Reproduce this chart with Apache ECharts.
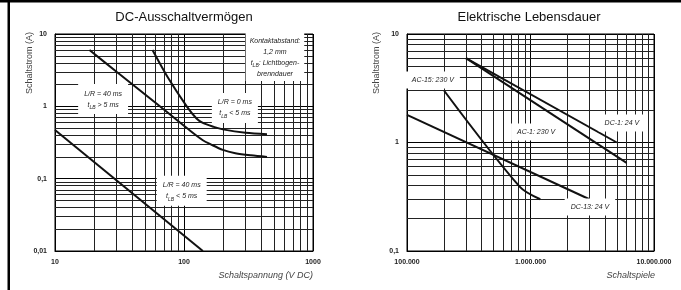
<!DOCTYPE html>
<html>
<head>
<meta charset="utf-8">
<script src="https://cdn.jsdelivr.net/npm/echarts@6/dist/echarts.min.js"></script>
<style>
  html, body { margin: 0; padding: 0; background: #fff; }
  #chart { width: 681px; height: 290px; }
</style>
</head>
<body>
<div id="chart"></div>
<script>
// DC-Ausschaltvermögen: [Schaltspannung (V DC), Schaltstrom (A)]
const dcLR40Long = [[18.5, 6], [30, 3], [65, 1], [110, 0.47], [140, 0.34], [160, 0.3], [200, 0.25], [250, 0.225], [330, 0.21], [440, 0.2]];
const dcLR0 = [[57, 6], [75, 2.5], [105, 1], [125, 0.68], [140, 0.59], [170, 0.52], [200, 0.48], [300, 0.43], [440, 0.41]];
const dcLR40Short = [[10, 0.47], [140, 0.01]];

// Elektrische Lebensdauer: [Schaltspiele, Schaltstrom (A)]
const lifeAC15 = [[200000, 3], [820000, 0.39], [1200000, 0.3]];
const lifeAC1 = [[300000, 6], [6000000, 0.65]];
const lifeDC1 = [[300000, 6], [5000000, 1]];
const lifeDC13 = [[100000, 1.8], [3000000, 0.3]];

// tick labels
const dcXTicks = [10, 100, 1000];
const dcXLabels = ["10", "100", "1000"];
const dcYTicks = [0.01, 0.1, 1, 10];
const dcYLabels = ["0,01", "0,1", "1", "10"];
const lifeXTicks = [100000, 1000000, 10000000];
const lifeXLabels = ["100.000", "1.000.000", "10.000.000"];
const lifeYTicks = [0.1, 1, 10];
const lifeYLabels = ["0,1", "1", "10"];

const FONT = "Liberation Sans";
const INK = "#111";

// minor grid lines 2..9 inside each decade
function minorLines(ticks) {
  const out = [];
  for (let i = 0; i < ticks.length - 1; i++) {
    for (let m = 2; m <= 9; m++) out.push(ticks[i] * m);
  }
  return out;
}

function tickFormatter(ticks, labels) {
  return (v) => {
    const i = ticks.findIndex((t) => Math.abs(Math.log10(t) - Math.log10(v)) < 1e-6);
    return i >= 0 ? labels[i] : "";
  };
}

function logAxis(gridIndex, ticks, labels, extra) {
  return Object.assign({
    type: "log",
    logBase: 10,
    gridIndex: gridIndex,
    min: ticks[0],
    max: ticks[ticks.length - 1],
    axisLine: { show: true, lineStyle: { color: "#000", width: 1 } },
    axisTick: { show: false },
    splitLine: { show: true, lineStyle: { color: "#000", width: 1 } },
    axisLabel: {
      fontSize: 7,
      fontWeight: "bold",
      fontFamily: FONT,
      color: "#222",
      margin: 8,
      showMinLabel: true,
      showMaxLabel: true,
      formatter: tickFormatter(ticks, labels),
    },
  }, extra || {});
}

function gridSeries(idx, xTicks, yTicks) {
  return {
    type: "line",
    xAxisIndex: idx,
    yAxisIndex: idx,
    data: [],
    z: 1,
    silent: true,
    markLine: {
      z: 1,
      silent: true,
      symbol: "none",
      animation: false,
      label: { show: false },
      emphasis: { disabled: true },
      lineStyle: { color: "#222", width: 1, type: "solid" },
      data: minorLines(xTicks).map((v) => ({ xAxis: v }))
        .concat(minorLines(yTicks).map((v) => ({ yAxis: v }))),
    },
  };
}

function curve(idx, data) {
  return {
    type: "line",
    xAxisIndex: idx,
    yAxisIndex: idx,
    data: data,
    showSymbol: false,
    smooth: 0.3,
    z: 6,
    silent: true,
    lineStyle: { color: INK, width: 2 },
  };
}

const richText = {
  a: { fontSize: 7, fontStyle: "italic", fontFamily: FONT, fill: "#222", lineHeight: 11 },
  s: { fontSize: 5, fontStyle: "italic", fontFamily: FONT, fill: "#222", lineHeight: 11, verticalAlign: "bottom" },
};

// annotation boxes, anchored in data units of each chart
const dcNotes = [
  { at: [507, 4.8], text: "{a|Kontaktabstand:}\n{a|1,2 mm}\n{a|t}{s|LB}{a|: Lichtbogen-}\n{a|brenndauer}", pad: [2, 4] },
  { at: [23.6, 1.26], text: "{a|L/R = 40 ms}\n{a|t}{s|LB}{a| > 5 ms}" },
  { at: [248, 0.95], text: "{a|L/R = 0 ms}\n{a|t}{s|LB}{a| < 5 ms}" },
  { at: [96, 0.068], text: "{a|L/R = 40 ms}\n{a|t}{s|LB}{a| < 5 ms}" },
];
const lifeNotes = [
  { at: [162000, 3.77], text: "{a|AC-15: 230 V}", pad: [3, 6] },
  { at: [1110000, 1.25], text: "{a|AC-1: 230 V}", pad: [3, 6] },
  { at: [5500000, 1.51], text: "{a|DC-1: 24 V}", pad: [3, 6] },
  { at: [3030000, 0.255], text: "{a|DC-13: 24 V}", pad: [3, 6] },
];

const chart = echarts.init(document.getElementById("chart"), null, { renderer: "canvas" });

chart.setOption({
  animation: false,
  backgroundColor: "#fff",
  title: [
    { text: "DC-Ausschaltvermögen", left: 179, top: 6, textAlign: "center",
      textStyle: { fontFamily: FONT, fontSize: 13, fontWeight: "normal", color: INK } },
    { text: "Elektrische Lebensdauer", left: 524, top: 6, textAlign: "center",
      textStyle: { fontFamily: FONT, fontSize: 13, fontWeight: "normal", color: INK } },
  ],
  grid: [
    { left: 55, top: 34, width: 258, height: 217, show: true, borderColor: "#000", borderWidth: 1 },
    { left: 407, top: 34, width: 247, height: 217, show: true, borderColor: "#000", borderWidth: 1 },
  ],
  xAxis: [
    logAxis(0, dcXTicks, dcXLabels, {}),
    logAxis(1, lifeXTicks, lifeXLabels, {}),
  ],
  yAxis: [
    logAxis(0, dcYTicks, dcYLabels, {}),
    logAxis(1, lifeYTicks, lifeYLabels, {}),
  ],
  series: [
    gridSeries(0, dcXTicks, dcYTicks),
    gridSeries(1, lifeXTicks, lifeYTicks),
    curve(0, dcLR40Long),
    curve(0, dcLR0),
    curve(0, dcLR40Short),
    curve(1, lifeAC15),
    curve(1, lifeAC1),
    curve(1, lifeDC1),
    curve(1, lifeDC13),
  ],
});

// place white annotation boxes through the chart's own scales
function noteGraphics(gridIndex, items) {
  return items.map((it) => {
    const p = chart.convertToPixel({ gridIndex: gridIndex }, it.at);
    return {
      type: "text",
      x: p[0],
      y: p[1],
      z: 50,
      silent: true,
      style: {
        text: it.text,
        rich: richText,
        align: "center",
        verticalAlign: "middle",
        backgroundColor: "#fff",
        padding: it.pad || [4, 6],
      },
    };
  });
}

chart.setOption({
  graphic: [
    { type: "rect", shape: { x: 0, y: 0, width: 681, height: 2.5 }, style: { fill: "#000" }, silent: true },
    { type: "rect", shape: { x: 7.5, y: 0, width: 2.5, height: 290 }, style: { fill: "#000" }, silent: true },
    { type: "text", x: 30, y: 63, rotation: Math.PI / 2, silent: true,
      style: { text: "Schaltstrom (A)", fontFamily: FONT, fontSize: 9, fill: "#444", align: "center", verticalAlign: "middle" } },
    { type: "text", x: 377, y: 63, rotation: Math.PI / 2, silent: true,
      style: { text: "Schaltstrom (A)", fontFamily: FONT, fontSize: 9, fill: "#444", align: "center", verticalAlign: "middle" } },
    { type: "text", x: 313, y: 275, silent: true,
      style: { text: "Schaltspannung (V DC)", fontFamily: FONT, fontSize: 9, fontStyle: "italic", fill: "#444", align: "right", verticalAlign: "middle" } },
    { type: "text", x: 655, y: 275, silent: true,
      style: { text: "Schaltspiele", fontFamily: FONT, fontSize: 9, fontStyle: "italic", fill: "#444", align: "right", verticalAlign: "middle" } },
  ].concat(noteGraphics(0, dcNotes), noteGraphics(1, lifeNotes)),
});
</script>
</body>
</html>
